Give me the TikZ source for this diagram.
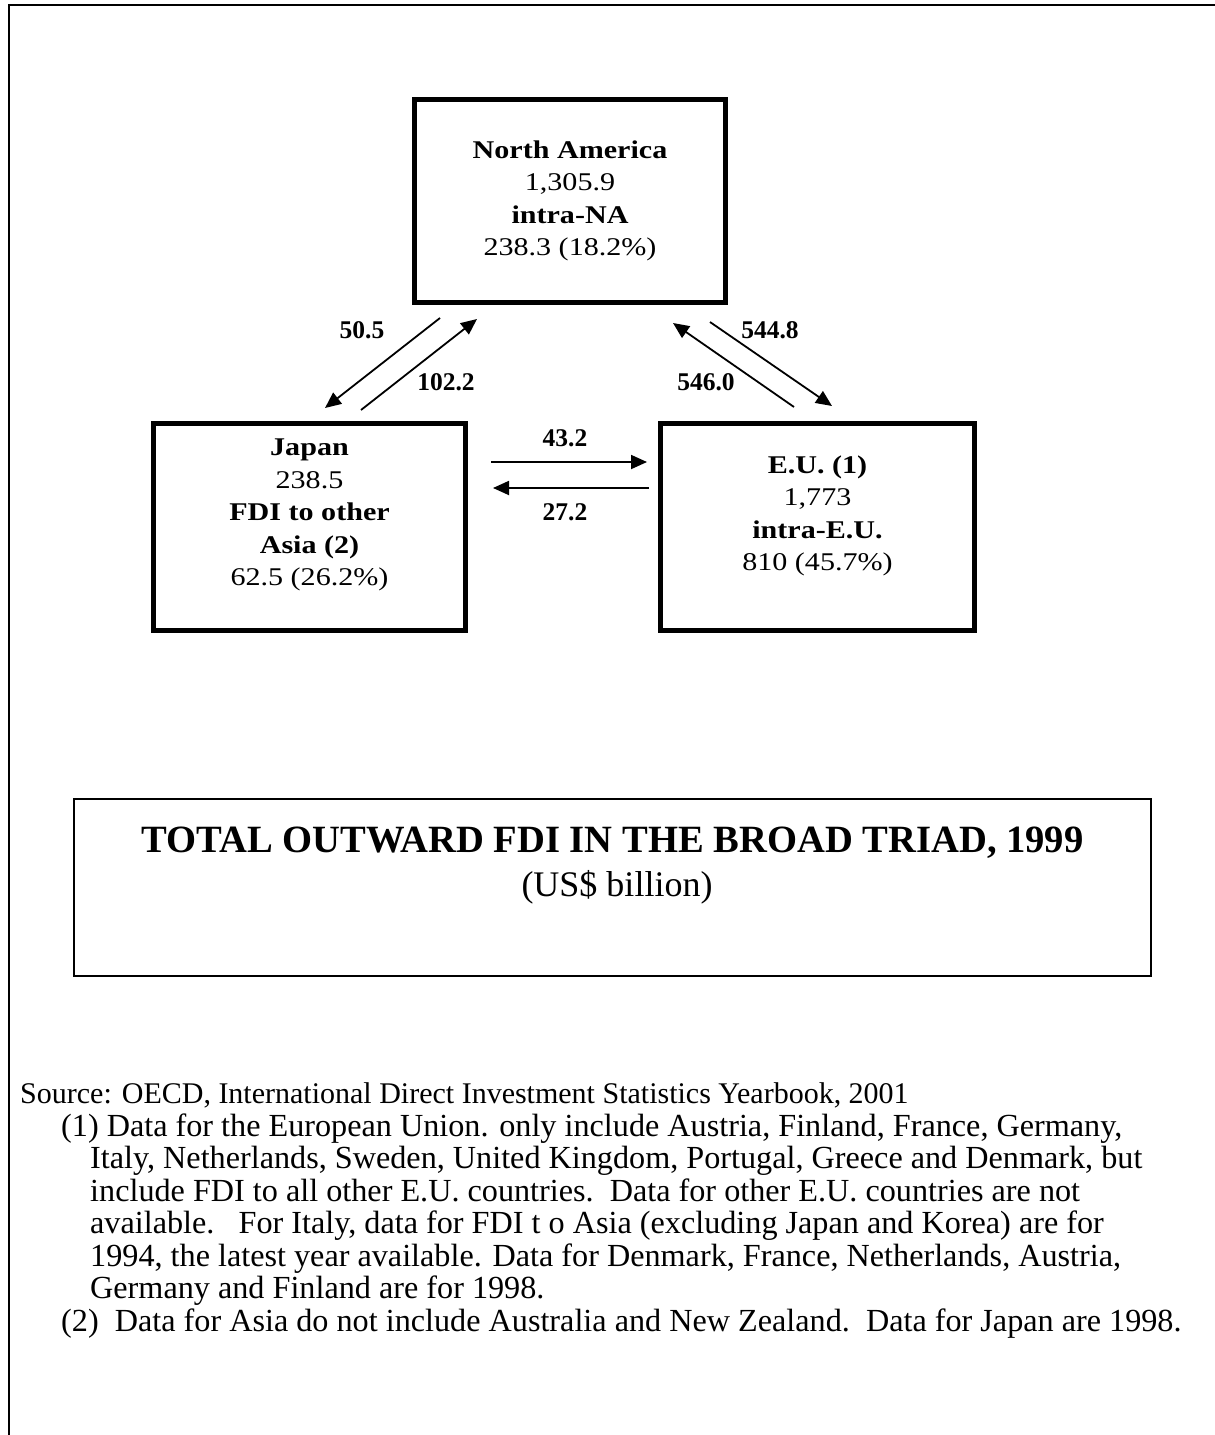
\documentclass[tikz,border=0pt]{standalone}
\usepackage{fontspec}
\setmainfont{Liberation Serif}
\newfontfamily\boxfont{Liberation Serif}[FakeStretch=1.18]
\usetikzlibrary{arrows.meta}
\tikzset{
  regionbox/.style={draw, line width=5pt, inner sep=0pt},
  boxtext/.style={align=center, inner sep=0pt, font=\boxfont\fontsize{25.5}{32.5}\selectfont},
  flow/.style={-{Triangle[length=16pt,width=14pt]}, line width=1.8pt},
  flowlabel/.style={inner sep=0pt, font=\fontsize{25.5}{28}\selectfont\bfseries},
  notetext/.style={anchor=base west, inner sep=0pt, font=\fontsize{32.2}{34}\selectfont},
}
\begin{document}
\begin{tikzpicture}[x=1pt,y=-1pt]
\useasboundingbox (0,0) rectangle (1215,1435);
\fill[white] (0,0) rectangle (1215,1435);
% outer frame (only left and top edges visible)
\draw[line width=2.5pt] (9,1440) -- (9,5) -- (1220,5);

% region boxes
\node[regionbox, minimum width=311pt, minimum height=203pt] (na) at (570,201) {};
\node[boxtext] (natext) at (570,201) {\textbf{North America}\\1,305.9\\\textbf{intra-NA}\\238.3 (18.2\%)};

\node[regionbox, minimum width=312pt, minimum height=207pt] (jp) at (309.5,527) {};
\node[boxtext] (jptext) at (309.5,515) {\textbf{Japan}\\238.5\\\textbf{FDI to other}\\\textbf{Asia (2)}\\62.5 (26.2\%)};

\node[regionbox, minimum width=314pt, minimum height=207pt] (eu) at (817.5,527) {};
\node[boxtext] (eutext) at (817.5,516) {\textbf{E.U. (1)}\\1,773\\\textbf{intra-E.U.}\\810 (45.7\%)};

% arrow end points
\coordinate (a1s) at (440,318); \coordinate (a1e) at (325,408);
\coordinate (a2s) at (361,410); \coordinate (a2e) at (477,319);
\coordinate (a3s) at (794,407); \coordinate (a3e) at (673,323);
\coordinate (a4s) at (710,322); \coordinate (a4e) at (832,406);
\coordinate (h1s) at (491,462); \coordinate (h1e) at (647,462);
\coordinate (h2s) at (649,488); \coordinate (h2e) at (493,488);

\draw[flow] (a1s) -- (a1e);
\draw[flow] (a2s) -- (a2e);
\draw[flow] (a3s) -- (a3e);
\draw[flow] (a4s) -- (a4e);
\draw[flow] (h1s) -- (h1e);
\draw[flow] (h2s) -- (h2e);

\node[flowlabel] (l1) at (362,330) {50.5};
\node[flowlabel] (l2) at (446,382) {102.2};
\node[flowlabel] (l3) at (706,382) {546.0};
\node[flowlabel] (l4) at (770,330) {544.8};
\node[flowlabel] (l5) at (565,438) {43.2};
\node[flowlabel] (l6) at (565,512) {27.2};

% title box
\node[draw, line width=2pt, minimum width=1077pt, minimum height=177pt, inner sep=0pt] (tbox) at (612.5,887.5) {};
\node[anchor=base, inner sep=0pt, font=\fontsize{38.6}{44}\selectfont\bfseries] (title) at (612.5,852) {TOTAL OUTWARD FDI IN THE BROAD TRIAD, 1999};
\node[anchor=base, inner sep=0pt, font=\fontsize{36}{40}\selectfont] (subtitle) at (617,896) {(US\$ billion)};

% notes
\node[notetext, font=\fontsize{30}{34}\selectfont] (src) at (20,1103.5) {Source: OECD, International Direct Investment Statistics Yearbook, 2001};
\node[notetext] (n1a) at (61,1136) {(1) Data for the European Union. only include Austria, Finland, France, Germany,};
\node[notetext] (n1b) at (90,1168.5) {Italy, Netherlands, Sweden, United Kingdom, Portugal, Greece and Denmark, but};
\node[notetext] (n1c) at (90,1201) {include FDI to all other E.U. countries.\ \ Data for other E.U. countries are not};
\node[notetext] (n1d) at (90,1233.5) {available.\ \ \ For Italy, data for FDI t o Asia (excluding Japan and Korea) are for};
\node[notetext] (n1e) at (90,1266) {1994, the latest year available. Data for Denmark, France, Netherlands, Austria,};
\node[notetext] (n1f) at (90,1298.5) {Germany and Finland are for 1998.};
\node[notetext] (n2) at (61,1331) {(2)\ \ Data for Asia do not include Australia and New Zealand.\ \ Data for Japan are 1998.};
\end{tikzpicture}
\end{document}
